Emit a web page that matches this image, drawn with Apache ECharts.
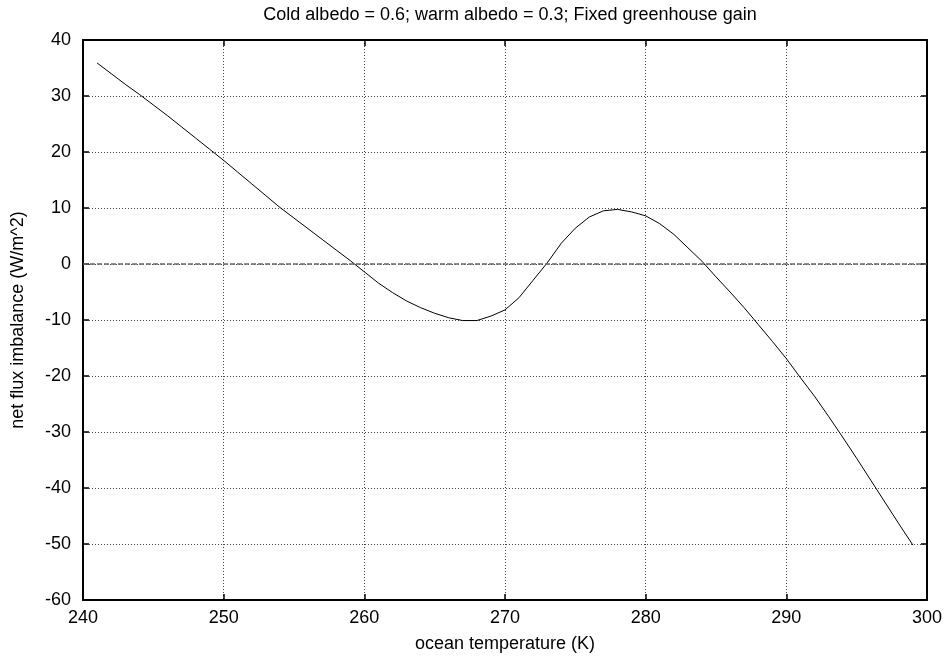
<!DOCTYPE html>
<html>
<head>
<meta charset="utf-8">
<script src="https://cdn.jsdelivr.net/npm/echarts@6/dist/echarts.min.js"></script>
<style>
  html, body { margin: 0; padding: 0; background: #fff; }
  #chart { width: 948px; height: 660px; }
</style>
</head>
<body>
<div id="chart"></div>
<script>
const titleText = 'Cold albedo = 0.6; warm albedo = 0.3; Fixed greenhouse gain'
const xName = 'ocean temperature (K)'
const yName = 'net flux imbalance (W/m^2)'

// ocean temperature (K), one sample per kelvin
const temps = [
  241, 242, 243, 244, 245, 246, 247, 248, 249, 250,
  251, 252, 253, 254, 255, 256, 257, 258, 259, 260,
  261, 262, 263, 264, 265, 266, 267, 268, 269, 270,
  271, 272, 273, 274, 275, 276, 277, 278, 279, 280,
  281, 282, 283, 284, 285, 286, 287, 288, 289, 290,
  291, 292, 293, 294, 295, 296, 297, 298, 299
]

// net flux imbalance (W/m^2)
const flux = [
  35.9, 34.0, 32.1, 30.3, 28.4, 26.5, 24.5, 22.5, 20.5, 18.5,
  16.4, 14.3, 12.2, 10.1, 8.2, 6.3, 4.4, 2.5, 0.6, -1.4,
  -3.4, -5.1, -6.6, -7.8, -8.8, -9.6, -10.1, -10.1, -9.3, -8.2,
  -6.0, -2.9, 0.2, 3.7, 6.4, 8.4, 9.5, 9.75, 9.3, 8.6,
  7.2, 5.3, 2.9, 0.5, -2.3, -5.0, -7.8, -10.8, -13.8, -16.9,
  -20.3, -23.6, -27.2, -30.9, -34.7, -38.6, -42.5, -46.4, -50.2
]

const points = temps.map((t, i) => [t, flux[i]])

const font = 'Liberation Sans, Arial, Helvetica, sans-serif'
const fs = 18
const dotted = { color: '#444', width: 1, type: [1, 2] }
const frame = { show: true, onZero: false, lineStyle: { color: '#000', width: 2 } }
const ticks = { show: true, inside: true, length: 6, lineStyle: { color: '#000', width: 1.5 } }

const chart = echarts.init(document.getElementById('chart'))
chart.setOption({
  animation: false,
  backgroundColor: '#fff',
  title: {
    text: titleText,
    left: 505,
    textAlign: 'center',
    top: 1,
    textStyle: { fontFamily: font, fontSize: fs, fontWeight: 'normal', color: '#000' }
  },
  grid: { left: 83, right: 21, top: 40, bottom: 60 },
  xAxis: [
    {
      type: 'value',
      min: 240,
      max: 300,
      interval: 10,
      name: xName,
      nameLocation: 'middle',
      nameGap: 35,
      nameTextStyle: { fontFamily: font, fontSize: fs, color: '#000' },
      axisLine: frame,
      axisTick: ticks,
      axisLabel: { fontFamily: font, fontSize: fs, color: '#000', margin: 9 },
      splitLine: { show: true, lineStyle: dotted }
    },
    {
      type: 'value',
      position: 'top',
      min: 240,
      max: 300,
      interval: 10,
      axisLine: frame,
      axisTick: ticks,
      axisLabel: { show: false },
      splitLine: { show: false }
    }
  ],
  yAxis: [
    {
      type: 'value',
      min: -60,
      max: 40,
      interval: 10,
      name: yName,
      nameLocation: 'middle',
      nameGap: 56,
      nameTextStyle: { fontFamily: font, fontSize: fs, color: '#000' },
      axisLine: frame,
      axisTick: ticks,
      axisLabel: { fontFamily: font, fontSize: fs, color: '#000', margin: 12 },
      splitLine: { show: true, lineStyle: dotted }
    },
    {
      type: 'value',
      position: 'right',
      min: -60,
      max: 40,
      interval: 10,
      axisLine: frame,
      axisTick: ticks,
      axisLabel: { show: false },
      splitLine: { show: false }
    }
  ],
  series: [
    {
      type: 'line',
      data: points,
      showSymbol: false,
      smooth: false,
      lineStyle: { color: '#000', width: 1 },
      markLine: {
        silent: true,
        symbol: 'none',
        label: { show: false },
        lineStyle: { color: '#666', width: 1.5, type: [5, 2] },
        data: [{ yAxis: 0 }]
      }
    }
  ]
})
</script>
</body>
</html>
